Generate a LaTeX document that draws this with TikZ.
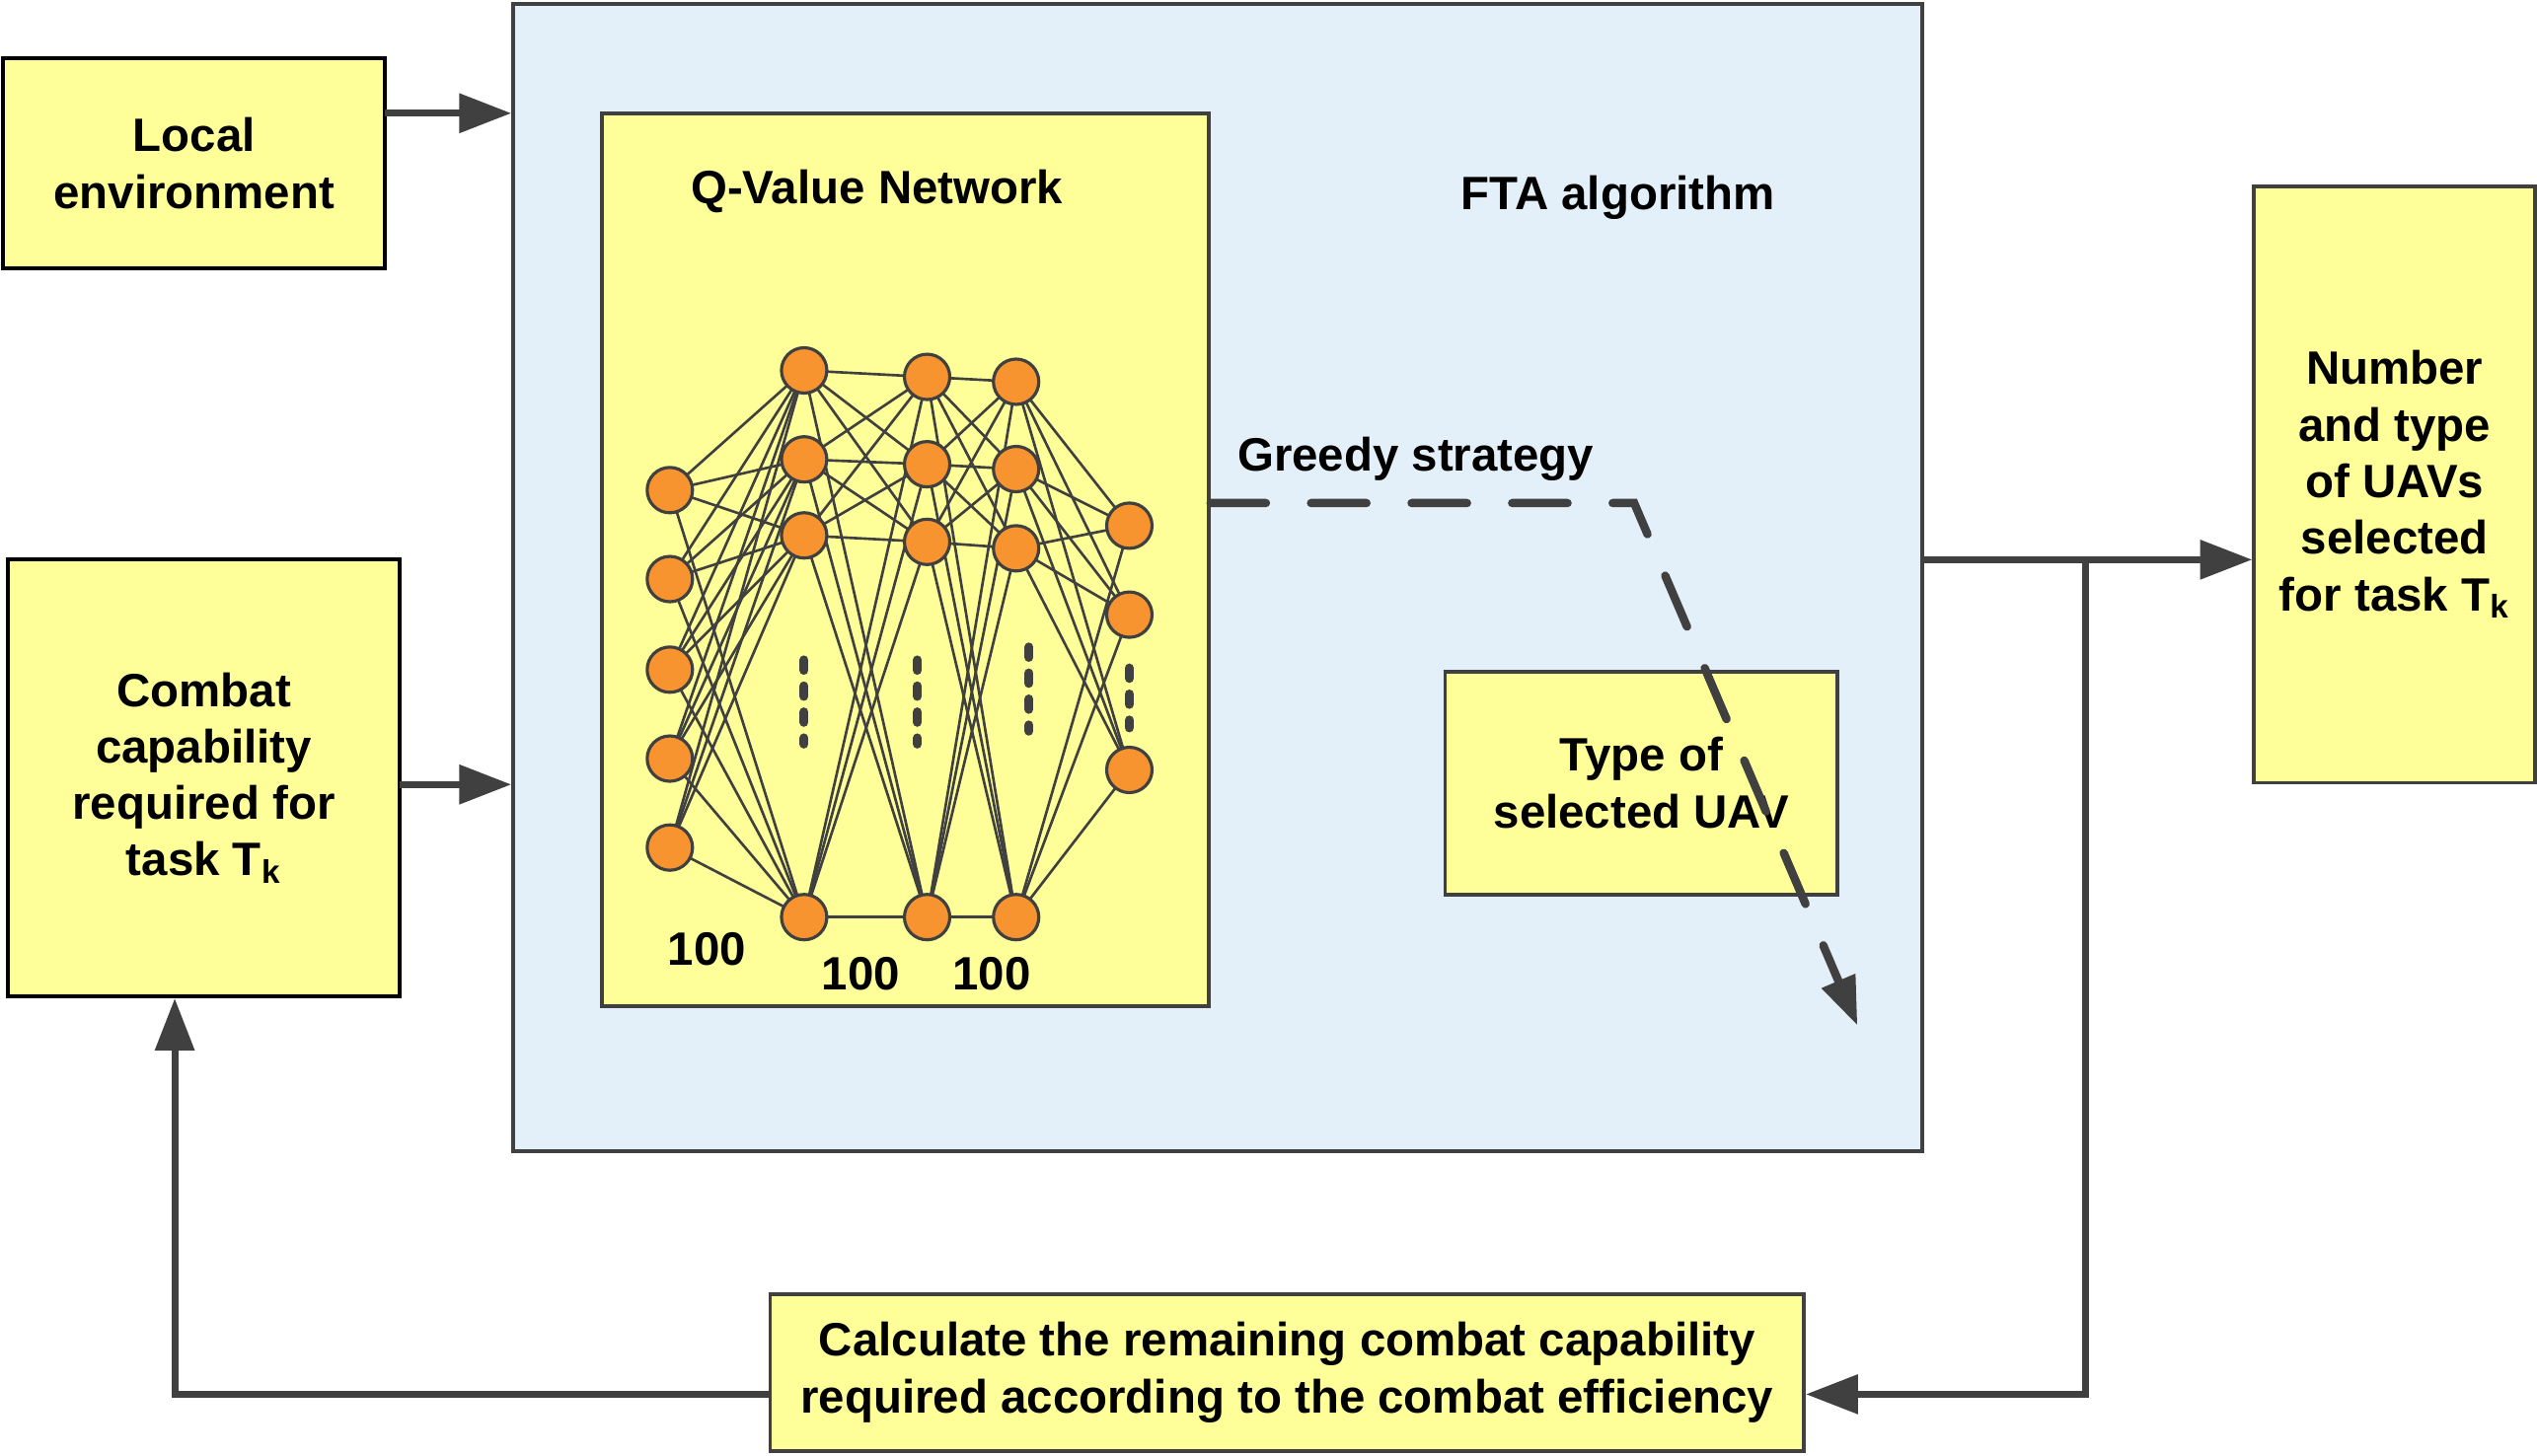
\documentclass[tikz,border=0pt]{standalone}
\usepackage{fontspec}
\setmainfont{Liberation Sans}
\usetikzlibrary{arrows.meta}
\definecolor{boxyellow}{HTML}{FFFF99}
\definecolor{ftablue}{HTML}{E3F0F9}
\definecolor{neuronorange}{HTML}{F7942F}
\definecolor{linegray}{HTML}{404040}
\newcommand{\labelfont}{\fontsize{13.5}{16.3}\selectfont\bfseries}
\newcommand{\Tk}{T\textsubscript{k}}
\tikzset{
  box/.style={draw=linegray, line width=1.1pt, fill=boxyellow, align=center, font=\labelfont, inner sep=0pt},
  label text/.style={font=\labelfont, inner sep=0pt},
  neuron/.style={circle, draw=linegray, line width=0.9pt, fill=neuronorange, minimum size=0.46cm, inner sep=0pt},
  synapse/.style={linegray, line width=0.75pt},
  ellipsis/.style={linegray, line width=2.6pt, line cap=round, dash pattern=on 3pt off 4.5pt},
  flow/.style={linegray, line width=2pt, -{Triangle[length=15pt,width=11pt]}},
  greedy/.style={linegray, line width=2.4pt, line cap=round, dash pattern=on 16pt off 13pt, -{Triangle[length=14pt,width=10pt]}}
}
\begin{document}
\begin{tikzpicture}[x=0.016397cm, y=-0.016397cm]
  \useasboundingbox (0,0) rectangle (1568,900);
  % Boxes
  \node[box, draw=black, minimum width=3.87cm, minimum height=2.13cm] (loc) at (120,101) {Local\\environment};
  \node[box, draw=black, minimum width=3.97cm, minimum height=4.43cm] (cap) at (126,481) {Combat\\capability\\required for\\task \Tk};
  \node[box, fill=ftablue, minimum width=14.28cm, minimum height=11.64cm] (fta) at (752.5,357) {};
  \node[box, minimum width=6.15cm, minimum height=9.05cm] (qnet) at (559.5,346) {};
  \node[box, minimum width=3.98cm, minimum height=2.26cm] (utype) at (1014.5,484) {Type of\\selected UAV};
  \node[box, minimum width=2.85cm, minimum height=6.05cm] (num) at (1480,299.5) {Number\\and type\\of UAVs\\selected\\for task \Tk};
  \node[box, minimum width=10.48cm, minimum height=1.59cm] (calc) at (795.5,848.5) {Calculate the remaining combat capability\\required according to the combat efficiency};
  % Titles
  \node[label text] (qtitle) at (542,118) {Q-Value Network};
  \node[label text] (ftatitle) at (1000,122) {FTA algorithm};
  \node[label text] (gtitle) at (875,284) {Greedy strategy};
  % Network
  \foreach \l/\x/\ys in {1/414/{303,358,414,469,524}, 2/497/{229,284,331,567}, 3/573/{233,287,335,567}, 4/628/{236,290,339,567}, 5/698/{325,380,476}}
    \foreach \y [count=\i] in \ys
      \coordinate (c\l-\i) at (\x,\y);
  \foreach \a/\na/\b/\nb in {1/5/2/4, 2/4/3/4, 3/4/4/4, 4/4/5/3}
    \foreach \i in {1,...,\na}
      \foreach \j in {1,...,\nb}
        \draw[synapse] (c\a-\i) -- (c\b-\j);
  \foreach \l/\n in {1/5, 2/4, 3/4, 4/4, 5/3}
    \foreach \i in {1,...,\n}
      \node[neuron] (n\l-\i) at (c\l-\i) {};
  \foreach \x/\ya/\yb in {497/408/460, 567/408/460, 636/400/452, 698/413/450}
    \draw[ellipsis] (\x,\ya) -- (\x,\yb);
  \node[label text] (size1) at (437,587) {100};
  \node[label text] (size2) at (532,602) {100};
  \node[label text] (size3) at (613,602) {100};
  % Connectors
  \coordinate (in1) at (238,70);
  \coordinate (in2) at (247,485);
  \coordinate (gturn) at (1010,311);
  \coordinate (gend) at (1148,634);
  \coordinate (split) at (1289,346);
  \coordinate (fbr) at (1289,862);
  \coordinate (fbl) at (108,862);
  \draw[flow] (in1) -- (fta.west |- in1);
  \draw[flow] (in2) -- (fta.west |- in2);
  \draw[greedy] (qnet.east |- gturn) -- (gturn) -- (gend);
  \draw[flow] (fta.east |- split) -- (num.west |- split);
  \draw[flow] (split) -- (fbr) -- (calc.east |- fbr);
  \draw[flow] (calc.west |- fbl) -- (fbl) -- (cap.south -| fbl);
\end{tikzpicture}
\end{document}
